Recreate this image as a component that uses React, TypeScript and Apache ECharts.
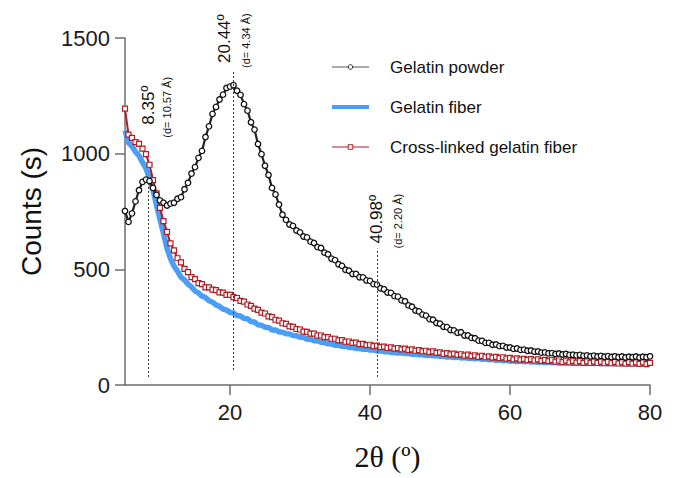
import React, { useEffect, useRef } from "react";
import * as echarts from "echarts";

// 2θ sampling positions (degrees)
const twoTheta = [
  5, 5.5, 6, 6.5, 7, 7.5, 8, 8.5, 9, 9.5,
  10, 10.5, 11, 11.5, 12, 12.5, 13, 13.5, 14, 14.5,
  15, 15.5, 16, 16.5, 17, 17.5, 18, 18.5, 19, 19.5,
  20, 20.5, 21, 21.5, 22, 22.5, 23, 23.5, 24, 24.5,
  25, 25.5, 26, 26.5, 27, 27.5, 28, 28.5, 29, 29.5,
  30, 30.5, 31, 31.5, 32, 32.5, 33, 33.5, 34, 34.5,
  35, 35.5, 36, 36.5, 37, 37.5, 38, 38.5, 39, 39.5,
  40, 40.5, 41, 41.5, 42, 42.5, 43, 43.5, 44, 44.5,
  45, 45.5, 46, 46.5, 47, 47.5, 48, 48.5, 49, 49.5,
  50, 50.5, 51, 51.5, 52, 52.5, 53, 53.5, 54, 54.5,
  55, 55.5, 56, 56.5, 57, 57.5, 58, 58.5, 59, 59.5,
  60, 60.5, 61, 61.5, 62, 62.5, 63, 63.5, 64, 64.5,
  65, 65.5, 66, 66.5, 67, 67.5, 68, 68.5, 69, 69.5,
  70, 70.5, 71, 71.5, 72, 72.5, 73, 73.5, 74, 74.5,
  75, 75.5, 76, 76.5, 77, 77.5, 78, 78.5, 79, 79.5,
  80,
];

const gelatinPowder = [
  752, 705, 742, 794, 842, 878, 888, 882, 852, 822,
  798, 788, 776, 784, 788, 805, 812, 846, 874, 914,
  942, 982, 1012, 1072, 1118, 1172, 1202, 1234, 1255, 1284,
  1290, 1296, 1272, 1254, 1214, 1186, 1136, 1104, 1042, 998,
  948, 908, 852, 824, 780, 736, 714, 694, 688, 668,
  660, 642, 638, 620, 614, 596, 592, 572, 565, 546,
  540, 522, 515, 498, 494, 480, 480, 466, 465, 452,
  450, 436, 434, 418, 414, 400, 398, 384, 382, 366,
  362, 344, 338, 322, 318, 304, 300, 285, 282, 268,
  265, 252, 250, 238, 236, 226, 228, 214, 214, 204,
  202, 192, 191, 182, 182, 174, 175, 168, 169, 162,
  162, 156, 158, 152, 153, 148, 149, 144, 145, 140,
  141, 137, 138, 134, 136, 132, 134, 130, 131, 128,
  130, 126, 128, 124, 127, 123, 126, 122, 125, 121,
  124, 120, 123, 119, 122, 120, 123, 119, 122, 120,
  124,
];

const gelatinFiber = [
  1100, 1048, 1032, 1008, 992, 962, 936, 892, 842, 778,
  716, 654, 592, 546, 514, 492, 466, 454, 436, 424,
  406, 398, 384, 378, 364, 358, 346, 340, 328, 324,
  314, 311, 300, 298, 288, 286, 274, 272, 260, 258,
  250, 249, 238, 238, 230, 228, 222, 221, 214, 213,
  206, 206, 198, 198, 191, 191, 185, 184, 178, 178,
  172, 173, 167, 168, 162, 163, 158, 159, 154, 155,
  151, 152, 147, 148, 144, 145, 141, 142, 138, 139,
  136, 137, 133, 134, 131, 131, 128, 129, 126, 127,
  124, 125, 121, 123, 119, 121, 117, 119, 115, 117,
  113, 115, 111, 113, 109, 111, 107, 109, 105, 107,
  103, 105, 101, 104, 100, 102, 99, 101, 98, 100,
  97, 99, 96, 98, 95, 97, 95, 97, 94, 96,
  94, 96, 93, 95, 93, 95, 92, 95, 92, 94,
  92, 94, 92, 94, 91, 94, 92, 95, 92, 95,
  96,
];

const crossLinkedFiber = [
  1195, 1082, 1068, 1050, 1042, 1022, 998, 952, 886, 828,
  766, 708, 662, 612, 582, 548, 530, 502, 488, 466,
  458, 440, 436, 422, 422, 412, 410, 400, 399, 390,
  390, 380, 376, 364, 360, 348, 342, 330, 325, 313,
  309, 297, 293, 282, 278, 267, 264, 253, 251, 242,
  240, 231, 230, 222, 222, 214, 214, 207, 207, 200,
  200, 193, 194, 187, 188, 182, 183, 177, 178, 172,
  174, 168, 170, 164, 166, 160, 163, 157, 160, 154,
  157, 151, 154, 148, 151, 145, 148, 142, 145, 139,
  141, 135, 138, 132, 136, 130, 133, 127, 131, 125,
  128, 122, 126, 120, 124, 118, 122, 116, 120, 114,
  117, 111, 115, 110, 113, 108, 112, 106, 111, 104,
  109, 103, 108, 101, 106, 99, 105, 98, 104, 97,
  103, 96, 102, 95, 101, 95, 101, 94, 100, 94,
  100, 93, 99, 92, 99, 92, 98, 91, 98, 90,
  96,
];

const seriesNames = ["Gelatin powder", "Gelatin fiber", "Cross-linked gelatin fiber"];
const xTicks = [20, 40, 60, 80];
const peakPositions = [8.35, 20.44, 40.98];
const peakLabels = ["8.35º", "20.44º", "40.98º"];
const dSpacingLabels = ["(d= 10.57 Å)", "(d= 4.34 Å)", "(d= 2.20 Å)"];
const dropLineBottom = [35, 65, 35];
const dropLineTop = [870, 1353, 590];

const SANS = "'Liberation Sans', Arial, Helvetica, sans-serif";
const SERIF = "'Liberation Serif', 'Times New Roman', serif";
const BLACK = "#222222";
const BLUE = "#4a9ef5";
const RED = "#ad1f24";
const AXIS = "#6e6e6e";

// pixel offsets of the rotated annotations relative to each drop-line top
const mainDx = [0, -9, 0];
const mainDy = [-59, -9, -5];
const subDx = [19, 13, 21];
const subDy = [-46, -4, 0];

export default function App() {
  const ref = useRef<HTMLDivElement>(null);

  useEffect(() => {
    if (!ref.current) return;
    const chart = echarts.init(ref.current, null, { renderer: "svg" });
    const pairs = (ys: number[]) => twoTheta.map((x, i) => [x, ys[i]]);

    chart.setOption({
      animation: false,
      backgroundColor: "#ffffff",
      grid: { left: 125, right: 28, top: 38, bottom: 93, containLabel: false, outerBoundsMode: "none" },
      xAxis: {
        type: "value",
        min: 5,
        max: 80,
        name: "2θ (º)",
        nameLocation: "middle",
        nameGap: 56,
        nameTextStyle: { fontFamily: SERIF, fontSize: 30, color: "#111" },
        axisLine: { show: true, onZero: false, lineStyle: { color: AXIS, width: 1.5 } },
        axisTick: { show: true, length: 10, customValues: xTicks, lineStyle: { color: AXIS, width: 1.5 } },
        axisLabel: {
          customValues: xTicks,
          margin: 16,
          fontFamily: SANS,
          fontSize: 22,
          color: "#1a1a1a",
          formatter: (v: number) => String(v),
        },
        splitLine: { show: false },
      },
      yAxis: {
        type: "value",
        min: 0,
        max: 1500,
        interval: 500,
        name: "Counts (s)",
        nameLocation: "middle",
        nameGap: 80,
        nameTextStyle: { fontFamily: SANS, fontSize: 28, color: "#111" },
        axisLine: { show: true, lineStyle: { color: AXIS, width: 1.5 } },
        axisTick: { show: true, length: 10, lineStyle: { color: AXIS, width: 1.5 } },
        axisLabel: {
          margin: 15,
          fontFamily: SANS,
          fontSize: 22,
          color: "#1a1a1a",
          formatter: (v: number) => String(v),
        },
        splitLine: { show: false },
      },
      series: [
        {
          name: seriesNames[1],
          type: "line",
          data: pairs(gelatinFiber),
          showSymbol: false,
          symbol: "none",
          lineStyle: { color: BLUE, width: 5.5 },
          itemStyle: { color: BLUE },
          z: 2,
        },
        {
          name: seriesNames[2],
          type: "line",
          data: pairs(crossLinkedFiber),
          symbol: "rect",
          symbolSize: 5,
          lineStyle: { color: RED, width: 2 },
          itemStyle: { color: "#ffffff", borderColor: RED, borderWidth: 1.2 },
          z: 3,
        },
        {
          name: seriesNames[0],
          type: "line",
          data: pairs(gelatinPowder),
          symbol: "circle",
          symbolSize: 5.5,
          lineStyle: { color: BLACK, width: 2.2 },
          itemStyle: { color: "#ffffff", borderColor: "#111", borderWidth: 1.3 },
          z: 4,
          markLine: {
            silent: true,
            symbol: ["none", "none"],
            label: { show: false },
            lineStyle: { type: [2, 2], color: "#333", width: 1 },
            emphasis: { disabled: true },
            data: peakPositions.map((p, i) => [
              { coord: [p, dropLineBottom[i]] },
              { coord: [p, dropLineTop[i]] },
            ]),
          },
        },
      ],
    });

    const graphics: any[] = [];
    // legend
    const legendX0 = 332;
    const legendX1 = 369;
    const legendTextX = 390;
    const legendRows = [67, 107, 147];
    const legendSwatch = [
      { stroke: "#555", width: 1, marker: "circle", mColor: BLACK },
      { stroke: BLUE, width: 4, marker: "none", mColor: BLUE },
      { stroke: RED, width: 1, marker: "rect", mColor: RED },
    ];
    seriesNames.forEach((name, i) => {
      const y = legendRows[i];
      const s = legendSwatch[i];
      graphics.push({
        type: "line",
        shape: { x1: legendX0, y1: y, x2: legendX1, y2: y },
        style: { stroke: s.stroke, lineWidth: s.width },
        silent: true,
      });
      if (s.marker === "circle") {
        graphics.push({
          type: "circle",
          shape: { cx: (legendX0 + legendX1) / 2, cy: y, r: 2.3 },
          style: { fill: "#fff", stroke: s.mColor, lineWidth: 1 },
          silent: true,
        });
      } else if (s.marker === "rect") {
        graphics.push({
          type: "rect",
          shape: { x: (legendX0 + legendX1) / 2 - 2.3, y: y - 2.3, width: 4.6, height: 4.6 },
          style: { fill: "#fff", stroke: s.mColor, lineWidth: 1 },
          silent: true,
        });
      }
      graphics.push({
        type: "text",
        x: legendTextX,
        y: y,
        style: {
          text: name,
          fontFamily: SANS,
          fontSize: 17,
          fill: "#111",
          align: "left",
          verticalAlign: "middle",
        },
        silent: true,
      });
    });

    // peak annotations
    peakPositions.forEach((p, i) => {
      const pt = chart.convertToPixel({ gridIndex: 0 }, [p, dropLineTop[i]]) as number[];
      graphics.push({
        type: "text",
        x: pt[0] + mainDx[i],
        y: pt[1] + mainDy[i],
        rotation: Math.PI / 2,
        style: {
          text: peakLabels[i],
          fontFamily: SANS,
          fontSize: 17,
          fill: "#111",
          align: "left",
          verticalAlign: "middle",
        },
        silent: true,
      });
      graphics.push({
        type: "text",
        x: pt[0] + subDx[i],
        y: pt[1] + subDy[i],
        rotation: Math.PI / 2,
        style: {
          text: dSpacingLabels[i],
          fontFamily: SANS,
          fontSize: 11,
          fill: "#111",
          align: "left",
          verticalAlign: "middle",
        },
        silent: true,
      });
    });

    chart.setOption({ graphic: graphics });

    return () => {
      chart.dispose();
    };
  }, []);

  return (
    <div
      ref={ref}
      style={{ position: "fixed", left: 0, top: 0, width: 678, height: 478, background: "#fff" }}
    />
  );
}
